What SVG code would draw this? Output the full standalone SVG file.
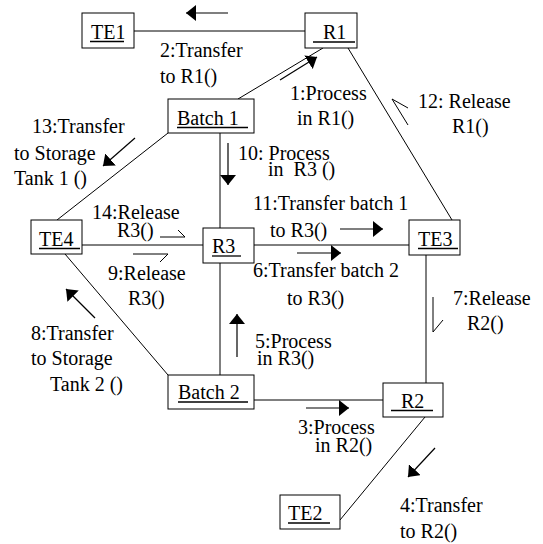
<svg xmlns="http://www.w3.org/2000/svg" width="543" height="544" viewBox="0 0 543 544" font-family="'Liberation Serif', 'DejaVu Serif', serif" font-size="20">
<style>
text{font-family:'Liberation Serif','DejaVu Serif',serif;font-size:20px;fill:#000}
.box{fill:#fff;stroke:#000;stroke-width:1}
.ul{stroke:#000;stroke-width:1.3}
.ln{stroke:#000;stroke-width:1;fill:none}
.ar{stroke:#000;stroke-width:1.2;fill:none}
</style>
<defs>
<marker id="ah" markerWidth="11" markerHeight="16" refX="10" refY="8" orient="auto" markerUnits="userSpaceOnUse">
<path d="M0,0 L10,8 L0,16 z" fill="#000"/>
</marker>
</defs>
<rect width="543" height="544" fill="#fff"/>
<g id="connectors">
<line class="ln" x1="134" y1="31" x2="305" y2="31"/>
<line class="ln" x1="238" y1="99" x2="323" y2="48"/>
<line class="ln" x1="348" y1="48" x2="452" y2="220"/>
<line class="ln" x1="168" y1="133" x2="57" y2="220"/>
<line class="ln" x1="220" y1="133" x2="220" y2="228"/>
<line class="ln" x1="82" y1="245" x2="203" y2="245"/>
<line class="ln" x1="254" y1="245" x2="409" y2="245"/>
<line class="ln" x1="65" y1="254" x2="168" y2="375"/>
<line class="ln" x1="220" y1="263" x2="220" y2="375"/>
<line class="ln" x1="426" y1="255" x2="426" y2="383"/>
<line class="ln" x1="254" y1="400" x2="383" y2="400"/>
<line class="ln" x1="425" y1="417" x2="340" y2="520"/>
</g>
<g id="arrows">
<line class="ar" x1="228" y1="13" x2="186" y2="13" marker-end="url(#ah)"/>
<line class="ar" x1="280" y1="80" x2="317" y2="57" marker-end="url(#ah)"/>
<line class="ar" x1="135" y1="138" x2="103" y2="166" marker-end="url(#ah)"/>
<line class="ar" x1="228" y1="143" x2="228" y2="185" marker-end="url(#ah)"/>
<line class="ar" x1="340" y1="229" x2="383" y2="229" marker-end="url(#ah)"/>
<line class="ar" x1="297" y1="253" x2="341" y2="253" marker-end="url(#ah)"/>
<line class="ar" x1="95" y1="318" x2="66" y2="289" marker-end="url(#ah)"/>
<line class="ar" x1="237" y1="357" x2="237" y2="314" marker-end="url(#ah)"/>
<line class="ar" x1="306" y1="408" x2="349" y2="408" marker-end="url(#ah)"/>
<line class="ar" x1="435" y1="448" x2="408" y2="477" marker-end="url(#ah)"/>
<polyline class="ln" points="408,125 392,99 408,108"/>
<polyline class="ln" points="160,237 185,237 178,230"/>
<polyline class="ln" points="133,254 168,254 160,262"/>
<polyline class="ln" points="433,297 433,332 443,320"/>
</g>
<g id="TE1"><rect class="box" x="82" y="13" width="52" height="35"/><text x="91" y="39">TE1</text><line class="ul" x1="90" y1="41.5" x2="124" y2="41.5"/></g>
<g id="R1"><rect class="box" x="305" y="13" width="52" height="35"/><text x="323" y="39">R1</text><line class="ul" x1="313" y1="42" x2="355" y2="42"/></g>
<g id="Batch1"><rect class="box" x="168" y="99" width="86" height="34"/><text x="177" y="125">Batch 1</text><line class="ul" x1="177" y1="127.5" x2="248" y2="127.5"/></g>
<g id="TE4"><rect class="box" x="31" y="220" width="51" height="34"/><text x="39" y="246">TE4</text><line class="ul" x1="39" y1="248.5" x2="80" y2="248.5"/></g>
<g id="R3"><rect class="box" x="203" y="228" width="51" height="35"/><text x="212" y="253">R3</text><line class="ul" x1="212" y1="256" x2="241" y2="256"/></g>
<g id="TE3"><rect class="box" x="409" y="220" width="51" height="35"/><text x="418" y="246">TE3</text><line class="ul" x1="418" y1="248.5" x2="458" y2="248.5"/></g>
<g id="Batch2"><rect class="box" x="168" y="375" width="86" height="34"/><text x="178" y="399">Batch 2</text><line class="ul" x1="178" y1="402" x2="248" y2="402"/></g>
<g id="R2"><rect class="box" x="383" y="383" width="60" height="34"/><text x="401" y="408">R2</text><line class="ul" x1="391" y1="410.5" x2="433" y2="410.5"/></g>
<g id="TE2"><rect class="box" x="280" y="495" width="60" height="34"/><text x="288" y="520">TE2</text><line class="ul" x1="288" y1="523" x2="330" y2="523"/></g>
<g id="labels">
<text x="160" y="57">2:Transfer</text>
<text x="160" y="83">to R1()</text>
<text x="290" y="100">1:Process</text>
<text x="297" y="125">in R1()</text>
<text x="418" y="108">12: Release</text>
<text x="452" y="133">R1()</text>
<text x="32" y="133">13:Transfer</text>
<text x="14" y="160">to Storage</text>
<text x="14" y="185">Tank 1 ()</text>
<text x="238" y="160">10: Process</text>
<text x="268" y="176" xml:space="preserve">in  R3 ()</text>
<text x="92" y="219">14:Release</text>
<text x="117" y="237">R3()</text>
<text x="253" y="210">11:Transfer batch 1</text>
<text x="270" y="237">to R3()</text>
<text x="108" y="280">9:Release</text>
<text x="128" y="305">R3()</text>
<text x="253" y="277">6:Transfer batch 2</text>
<text x="287" y="305">to R3()</text>
<text x="453" y="305">7:Release</text>
<text x="467" y="330">R2()</text>
<text x="31" y="340">8:Transfer</text>
<text x="31" y="365">to Storage</text>
<text x="50" y="391">Tank 2 ()</text>
<text x="255" y="348">5:Process</text>
<text x="257" y="365">in R3()</text>
<text x="298" y="434">3:Process</text>
<text x="315" y="452">in R2()</text>
<text x="400" y="512">4:Transfer</text>
<text x="400" y="538">to R2()</text>
</g>
</svg>
